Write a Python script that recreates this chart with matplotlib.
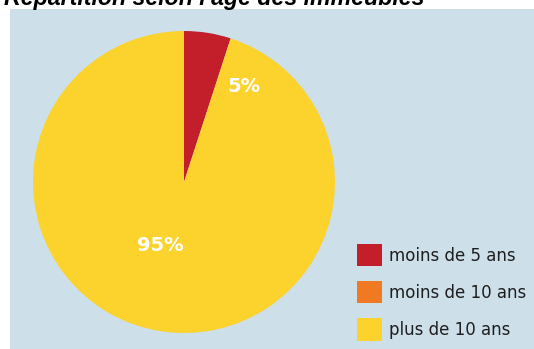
import matplotlib.pyplot as plt
from matplotlib.patches import Rectangle, Patch

labels = ["moins de 5 ans", "moins de 10 ans", "plus de 10 ans"]
shares = [5, 0, 95]
colors = ["#c21f2a", "#f07a22", "#fcd22c"]
title = "Répartition selon l'âge des immeubles"

W, H = 534, 349
fig = plt.figure(figsize=(W / 100, H / 100), dpi=100)
fig.patch.set_facecolor("white")

# light blue panel behind everything
fig.patches.append(Rectangle((10 / W, 0), 1 - 10 / W, 1 - 9 / H,
                             transform=fig.transFigure, facecolor="#cddfe9",
                             edgecolor="none", zorder=-10))

fig.text(4 / W, 1 - 5 / H, title, fontsize=16.7, fontweight="bold",
         style="italic", family="Liberation Sans", va="baseline", ha="left")

# pie: centre (184, 182) px, radius 151 px
r = 151
ax = fig.add_axes([(184 - r) / W, (H - 182 - r) / H, 2 * r / W, 2 * r / H])
ax.pie(shares, colors=colors, startangle=90, counterclock=False,
       radius=1, wedgeprops=dict(linewidth=0))
ax.set_xlim(-1, 1)
ax.set_ylim(-1, 1)
ax.set_aspect("auto")
ax.axis("off")

label_pos = {0: (0.40, 0.63), 2: (-0.16, -0.42)}
for i, (x, y) in label_pos.items():
    ax.text(x, y, f"{shares[i]}%", color="white", fontsize=14,
            fontweight="bold", ha="center", va="center")

handles = [Patch(facecolor=c, edgecolor="none") for c in colors]
fig.legend(handles, labels, loc="upper left",
           bbox_to_anchor=(357 / W, 1 - 244 / H), frameon=False,
           fontsize=12, labelcolor="#1e1e1e", handlelength=1.5,
           handleheight=1.67, labelspacing=0.9, handletextpad=0.42,
           borderpad=0, borderaxespad=0)

fig.savefig("out.png", dpi=100)
